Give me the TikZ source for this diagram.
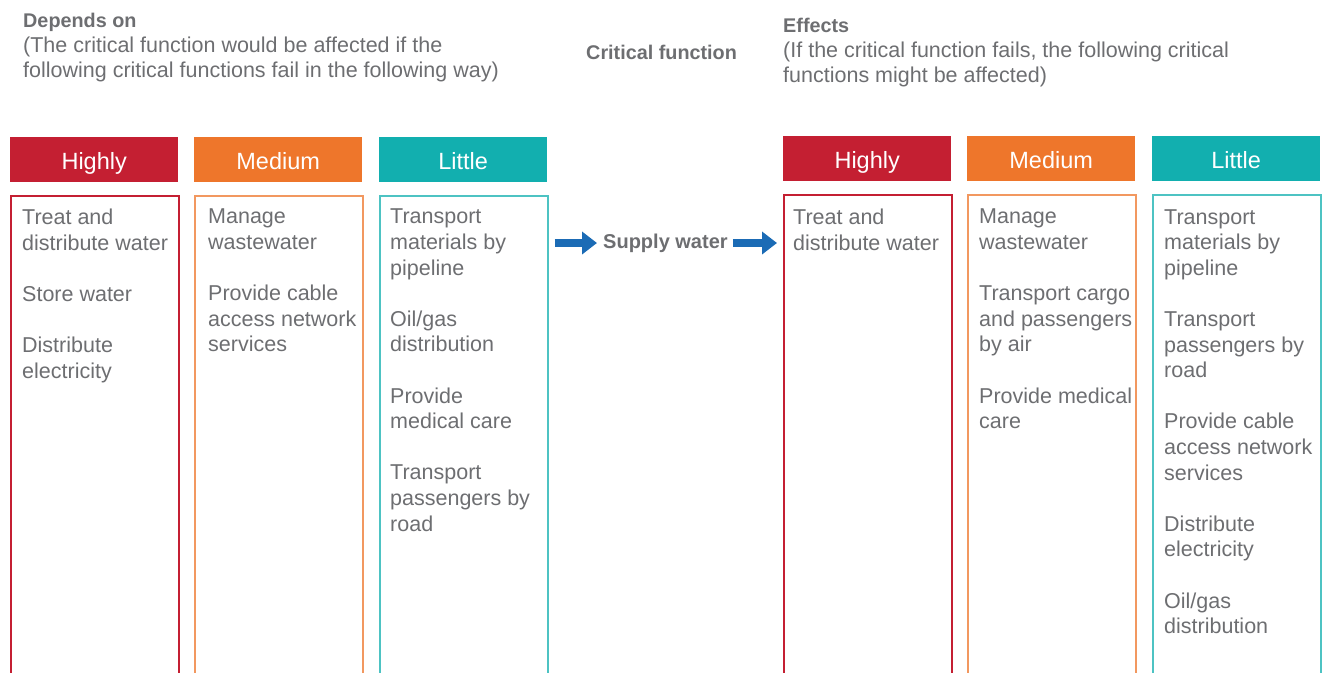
\documentclass[tikz,border=0pt]{standalone}
\usepackage{fontspec}
\setmainfont{Liberation Sans}
\usetikzlibrary{arrows.meta}
\definecolor{txtgray}{HTML}{6D6E71}
\definecolor{hired}{HTML}{C41F32}
\definecolor{medorange}{HTML}{EE762B}
\definecolor{lowteal}{HTML}{12AFAF}
\definecolor{arrowblue}{HTML}{1B6BB5}
\tikzset{
  hdr/.style={fill=#1, text=white, anchor=north west, inner sep=0pt,
    minimum width=168pt, minimum height=45pt, text height=21pt, text depth=2pt,
    font=\fontsize{23.5}{27}\selectfont},
  colbox/.style={draw=#1, line width=1.5pt, anchor=north west, inner sep=0pt,
    minimum width=168pt, minimum height=520pt},
  items/.style={anchor=north west, align=left, inner sep=0pt, text=txtgray,
    font=\fontsize{21.5}{25.6}\selectfont},
  note/.style={anchor=north west, align=left, inner sep=0pt, text=txtgray,
    font=\fontsize{21.5}{25}\selectfont},
  notetitle/.style={font=\bfseries\fontsize{19.8}{25}\selectfont},
  flow/.style={draw=arrowblue, line width=8pt,
    -{Triangle[width=22pt,length=15pt]}},
}
\newcommand{\gap}{\\[25.6pt]}
\begin{document}
\begin{tikzpicture}[x=1pt,y=-1pt]
\useasboundingbox (0,0) rectangle (1325,672);
\clip (0,0) rectangle (1325,672);

% titles
\node[note] (dep) at (23,13) {{\bfseries\fontsize{19.8}{25}\selectfont Depends on}\\(The critical function would be affected if the\\following critical functions fail in the following way)};
\node[note, notetitle] (crit) at (586,45) {Critical function};
\node[note] (eff) at (783,18) {{\bfseries\fontsize{19.8}{25}\selectfont Effects}\\(If the critical function fails, the following critical\\functions might be affected)};

% left: depends on
\node[hdr=hired] (lh) at (10,137) {Highly};
\node[hdr=medorange] (lm) at (194,137) {Medium};
\node[hdr=lowteal] (ll) at (379,137) {Little};
\node[colbox=hired] (lhb) at (10,195) {};
\node[colbox=medorange!75] (lmb) at (194,195) {};
\node[colbox=lowteal!75] (llb) at (379,195) {};
\node[items] (lhi) at (22,209) {Treat and\\distribute water\gap Store water\gap Distribute\\electricity};
\node[items] (lmi) at (208,209) {Manage\\wastewater\gap Provide cable\\access network\\services};
\node[items] (lli) at (390,209) {Transport\\materials by\\pipeline\gap Oil/gas\\distribution\gap Provide\\medical care\gap Transport\\passengers by\\road};

% centre
\node[anchor=west, inner sep=0pt, text=txtgray, font=\bfseries\fontsize{20}{22}\selectfont] (sup) at (603,243) {Supply water};

% right: effects
\node[hdr=hired] (rh) at (783,136) {Highly};
\node[hdr=medorange] (rm) at (967,136) {Medium};
\node[hdr=lowteal] (rl) at (1152,136) {Little};
\node[colbox=hired] (rhb) at (783,194) {};
\node[colbox=medorange!75] (rmb) at (967,194) {};
\node[colbox=lowteal!75] (rlb) at (1152,194) {};
\node[items] (rhi) at (793,209) {Treat and\\distribute water};
\node[items] (rmi) at (979,209) {Manage\\wastewater\gap Transport cargo\\and passengers\\by air\gap Provide medical\\care};
\node[items] (rli) at (1164,209) {Transport\\materials by\\pipeline\gap Transport\\passengers by\\road\gap Provide cable\\access network\\services\gap Distribute\\electricity\gap Oil/gas\\distribution};

% arrows
\draw[flow, shorten <=6pt, shorten >=6pt] (llb.east |- sup.west) -- (sup.west);
\draw[flow, shorten <=5pt, shorten >=6pt] (sup.east) -- (rhb.west |- sup.east);
\end{tikzpicture}
\end{document}
